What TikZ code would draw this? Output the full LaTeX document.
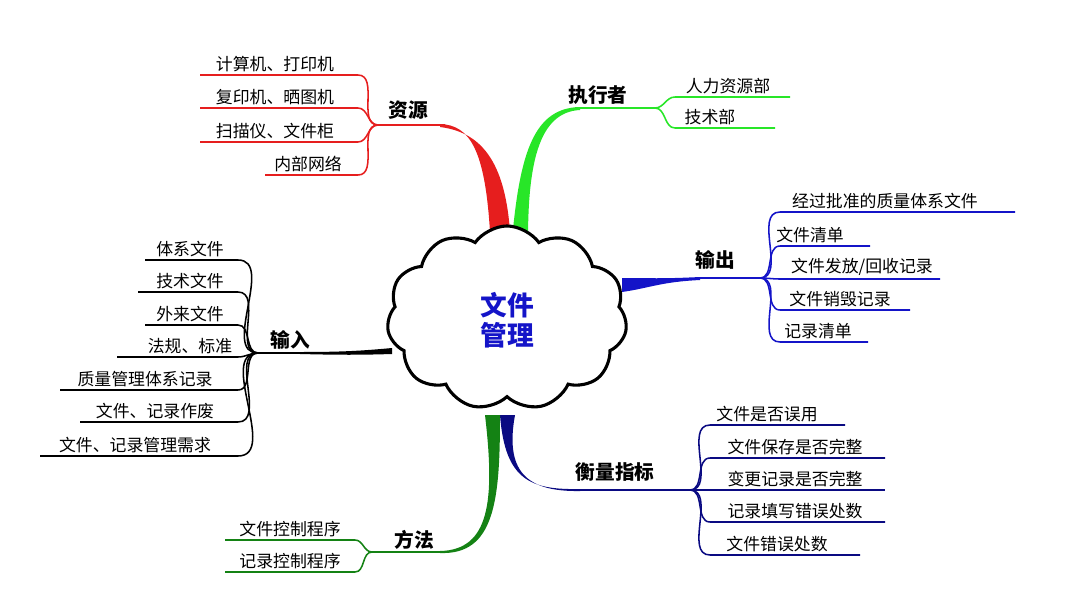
\documentclass[tikz,border=0pt]{standalone}
\usepackage{fontspec}
\setmainfont{Noto Sans CJK SC}
\usetikzlibrary{shapes.symbols}
\definecolor{resred}{RGB}{230,30,30}
\definecolor{exegreen}{RGB}{40,230,40}
\definecolor{outblue}{RGB}{20,20,200}
\definecolor{metnavy}{RGB}{10,10,130}
\definecolor{methgreen}{RGB}{20,130,20}
\begin{document}
\begin{tikzpicture}[x=0.025cm,y=-0.025cm]
    \tikzstyle{item}=[inner sep=0pt,font=\fontsize{12}{14}\selectfont]
    \tikzstyle{topic}=[inner sep=0pt,font=\fontsize{14}{16}\selectfont\bfseries]
    \tikzstyle{twig}=[line width=1.1pt]
    \useasboundingbox (0,0) rectangle (1080,598);
    % tapered branches
    \fill[resred] (490,232) .. controls (485,150) and (470,125) .. (440,124) -- (440,127) .. controls (480,132) and (505,160) .. (510,232) -- cycle;
    \fill[exegreen] (512,240) .. controls (520,150) and (535,108) .. (580,107) -- (580,110) .. controls (540,112) and (528,160) .. (528,240) -- cycle;
    \fill[outblue] (622,278) .. controls (650,278) and (660,279) .. (700,277) -- (700,280) .. controls (660,282) and (650,288) .. (622,292) -- cycle;
    \fill[black] (392,348) .. controls (360,351) and (340,352) .. (300,352) -- (300,354) .. controls (340,355) and (360,355) .. (392,354) -- cycle;
    \fill[metnavy] (500,415) .. controls (505,480) and (530,490) .. (580,489) -- (580,491) .. controls (525,492) and (505,470) .. (515,415) -- cycle;
    \fill[methgreen] (485,415) .. controls (495,500) and (490,550) .. (440,551) -- (440,553) .. controls (495,555) and (500,500) .. (500,415) -- cycle;
    % cloud
    \node[cloud,cloud puffs=11,cloud puff arc=110,aspect=1.3,draw,line width=2.2pt,fill=white,
      minimum width=6.0cm,minimum height=4.6cm,inner sep=0pt] (core) at (507,318) {};
    \node[font=\fontsize{19}{21}\selectfont\bfseries,text=outblue,align=center] (coretext) at (507,320) {文件\\管理};
    % topics
    \node[topic] (res) at (408,110) {资源};
    \node[topic] (exe) at (598,95) {执行者};
    \node[topic] (out) at (715,260) {输出};
    \node[topic] (inp) at (290,340) {输入};
    \node[topic] (met) at (615,472) {衡量指标};
    \node[topic] (meth) at (414,540) {方法};
    \coordinate (resh) at (378,125);
    \coordinate (exeh) at (655,108);
    \coordinate (outh) at (760,278);
    \coordinate (inph) at (258,353);
    \coordinate (meth2) at (690,490);
    \coordinate (methh) at (372,552);
    \draw[resred,twig] (resh) -- (445,125);
    \draw[exegreen,twig] (575,108) -- (exeh);
    \draw[outblue,twig] (695,278) -- (outh);
    \draw[black,twig] (305,353) -- (inph);
    \draw[metnavy,twig] (575,490) -- (meth2);
    \draw[methgreen,twig] (445,552) -- (methh);
    % resources
    \foreach \t/\tx/\ly/\fx [count=\i] in {计算机、打印机/275/75/200, 复印机、晒图机/275/108/200, 扫描仪、文件柜/275/142/200, 内部网络/308/175/265}{
      \node[item,anchor=south] (res\i) at (\tx,\ly-3) {\t};
      \draw[resred,twig] (resh) to[out=180,in=0] (358,\ly) -- (\fx,\ly);
    }
    % executors
    \foreach \t/\tx/\ly/\fx [count=\i] in {人力资源部/728/97/790, 技术部/710/128/775}{
      \node[item,anchor=south] (exe\i) at (\tx,\ly-3) {\t};
      \draw[exegreen,twig] (exeh) to[out=0,in=180] (675,\ly) -- (\fx,\ly);
    }
    % outputs
    \foreach \t/\tx/\ly/\fx [count=\i] in {经过批准的质量体系文件/885/212/1015, 文件清单/810/246/870, {文件发放/回收记录}/862/279/940, 文件销毁记录/840/310/910, 记录清单/818/342/868}{
      \node[item,anchor=south] (out\i) at (\tx,\ly-3) {\t};
      \draw[outblue,twig] (outh) to[out=0,in=180] (780,\ly) -- (\fx,\ly);
    }
    % inputs
    \foreach \t/\tx/\ly/\fx [count=\i] in {体系文件/190/260/145, 技术文件/190/292/138, 外来文件/190/325/145, 法规、标准/190/357/117, 质量管理体系记录/145/390/60, 文件、记录作废/155/422/80, 文件、记录管理需求/135/456/40}{
      \node[item,anchor=south] (inp\i) at (\tx,\ly-3) {\t};
      \draw[black,twig] (inph) to[out=180,in=0] (238,\ly) -- (\fx,\ly);
    }
    % metrics
    \foreach \t/\tx/\ly/\fx [count=\i] in {文件是否误用/767/425/845, 文件保存是否完整/795/458/885, 变更记录是否完整/795/490/885, 记录填写错误处数/795/522/885, 文件错误处数/777/555/860}{
      \node[item,anchor=south] (met\i) at (\tx,\ly-3) {\t};
      \draw[metnavy,twig] (meth2) to[out=0,in=180] (710,\ly) -- (\fx,\ly);
    }
    % methods
    \foreach \t/\tx/\ly/\fx [count=\i] in {文件控制程序/290/540/225, 记录控制程序/290/572/225}{
      \node[item,anchor=south] (meth\i) at (\tx,\ly-3) {\t};
      \draw[methgreen,twig] (methh) to[out=180,in=0] (355,\ly) -- (\fx,\ly);
    }
\end{tikzpicture}
\end{document}
